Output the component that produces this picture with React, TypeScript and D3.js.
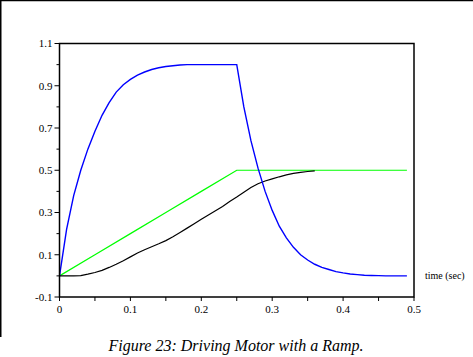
import React from "react";
import * as d3 from "d3";

const W = 473;
const H = 357;

// time samples (s)
const blueT = [0,0.01,0.02,0.03,0.04,0.05,0.06,0.07,0.08,0.09,0.10,0.11,0.12,0.13,0.14,0.15,0.16,0.17,0.18,0.19,0.20,0.21,0.22,0.23,0.24,0.25,0.26,0.27,0.28,0.29,0.30,0.31,0.32,0.33,0.34,0.35,0.36,0.37,0.38,0.39,0.40,0.41,0.42,0.43,0.44,0.45,0.46,0.47,0.48,0.49];
const blueV = [0,0.22,0.38,0.50,0.60,0.685,0.76,0.82,0.87,0.905,0.93,0.95,0.965,0.977,0.985,0.991,0.995,0.998,1,1,1,1,1,1,1,1,0.80,0.64,0.51,0.40,0.31,0.235,0.18,0.135,0.10,0.075,0.055,0.04,0.03,0.02,0.014,0.009,0.006,0.003,0.002,0.001,0,0,0,0];

const greenT = [0,0.05,0.10,0.15,0.20,0.25,0.30,0.35,0.40,0.45,0.49];
const greenV = [0,0.1,0.2,0.3,0.4,0.5,0.5,0.5,0.5,0.5,0.5];

const blackT = [0,0.01,0.02,0.03,0.04,0.05,0.06,0.07,0.08,0.09,0.10,0.11,0.12,0.13,0.14,0.15,0.16,0.17,0.18,0.19,0.20,0.21,0.22,0.23,0.24,0.25,0.26,0.27,0.28,0.29,0.30,0.31,0.32,0.33,0.34,0.35,0.36];
const blackV = [0,0,0,0.001,0.008,0.016,0.026,0.04,0.055,0.072,0.09,0.108,0.124,0.138,0.152,0.167,0.185,0.205,0.226,0.247,0.268,0.288,0.308,0.328,0.352,0.373,0.396,0.418,0.436,0.449,0.459,0.469,0.478,0.485,0.49,0.494,0.497];

const yMajor = [-0.1, 0.1, 0.3, 0.5, 0.7, 0.9, 1.1];
const yMinor = [0, 0.2, 0.4, 0.6, 0.8, 1.0];
const xTicks = [0, 0.1, 0.2, 0.3, 0.4, 0.5];
const xMinor = [0.05, 0.15, 0.25, 0.35, 0.45];

const caption = "Figure 23: Driving Motor with a Ramp.";
const xLabel = "time (sec)";

export default function App() {
  const x = d3.scaleLinear().domain([0, 0.5]).range([59.5, 414]);
  const y = d3.scaleLinear().domain([-0.1, 1.1]).range([297, 43.5]);
  const line = d3
    .line<[number, number]>()
    .x((d) => x(d[0]))
    .y((d) => y(d[1]));
  const zip = (t: number[], v: number[]) => t.map((tt, i) => [tt, v[i]] as [number, number]);
  const font = "'Liberation Serif', 'Times New Roman', serif";

  return (
    <svg
      width={W}
      height={H}
      style={{ position: "absolute", left: 0, top: 0, background: "#fff" }}
    >
      <rect x={0} y={0} width={W} height={H} fill="#fff" />
      {/* page border */}
      <line x1={0} y1={0.5} x2={W} y2={0.5} stroke="#000" strokeWidth={1.5} />
      <line x1={0.75} y1={0} x2={0.75} y2={337} stroke="#000" strokeWidth={1.5} />

      {/* data */}
      <path d={line(zip(greenT, greenV)) || ""} fill="none" stroke="#00ff00" strokeWidth={1.2} />
      <path d={line(zip(blackT, blackV)) || ""} fill="none" stroke="#000" strokeWidth={1.2} />
      <path d={line(zip(blueT, blueV)) || ""} fill="none" stroke="#0000ff" strokeWidth={1.4} />

      {/* frame */}
      <rect
        x={x(0)}
        y={y(1.1)}
        width={x(0.5) - x(0)}
        height={y(-0.1) - y(1.1)}
        fill="none"
        stroke="#000"
        strokeWidth={1.5}
      />

      {/* y ticks */}
      {yMajor.map((v) => (
        <g key={"ym" + v}>
          <line x1={x(0) - 5} x2={x(0)} y1={y(v)} y2={y(v)} stroke="#000" strokeWidth={1} />
          <text
            x={x(0) - 7}
            y={y(v)}
            dy="0.35em"
            textAnchor="end"
            fontFamily={font}
            fontSize={11}
          >
            {v.toString()}
          </text>
        </g>
      ))}
      {yMinor.map((v) => (
        <line key={"yn" + v} x1={x(0) - 3} x2={x(0)} y1={y(v)} y2={y(v)} stroke="#000" strokeWidth={1} />
      ))}

      {/* x ticks */}
      {xTicks.map((v) => (
        <g key={"xm" + v}>
          <line x1={x(v)} x2={x(v)} y1={y(-0.1)} y2={y(-0.1) + 4} stroke="#000" strokeWidth={1} />
          <text x={x(v)} y={313} textAnchor="middle" fontFamily={font} fontSize={11}>
            {v.toString()}
          </text>
        </g>
      ))}
      {xMinor.map((v) => (
        <line key={"xn" + v} x1={x(v)} x2={x(v)} y1={y(-0.1)} y2={y(-0.1) + 4} stroke="#000" strokeWidth={1} />
      ))}

      <text x={425} y={279} fontFamily={font} fontSize={10}>
        {xLabel}
      </text>

      <text
        x={236}
        y={351}
        textAnchor="middle"
        fontFamily={font}
        fontStyle="italic"
        fontSize={16}
      >
        {caption}
      </text>
    </svg>
  );
}
